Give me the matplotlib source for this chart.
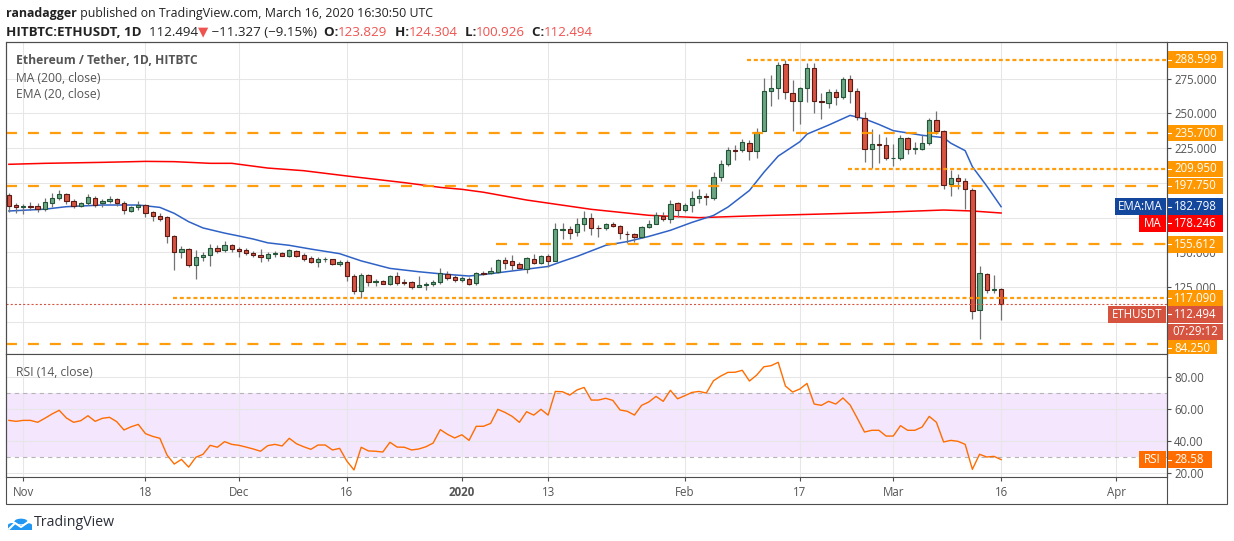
"""
ETH/USDT daily chart (HITBTC) - TradingView style recreation
"""

import matplotlib
matplotlib.use("Agg")
import matplotlib.pyplot as plt
import matplotlib.transforms as mtransforms
from matplotlib.patches import Rectangle, Circle
from matplotlib.lines import Line2D
import numpy as np
import pandas as pd

# ─── DATA ───────────────────────────────────────────────────────────────────
start_date = "2019-10-30"

opens = [191.2, 183.7, 182.3, 182.9, 183.0, 181.4, 185.7, 188.8, 191.9, 186.6,
         183.5, 185.2, 188.8, 185.2, 187.1, 188.1, 185.2, 179.9, 182.3, 183.7,
         178.7, 175.8, 175.1, 161.5, 149.9, 152.1, 140.6, 146.3, 147.8, 152.8,
         151.4, 155.0, 152.1, 151.6, 149.5, 148.0, 146.1, 148.5, 149.5, 147.5,
         150.9, 148.0, 145.6, 143.2, 144.9, 144.9, 141.8, 142.7, 133.2, 122.4,
         133.4, 128.8, 129.3, 127.4, 132.7, 128.8, 128.4, 125.2, 126.2, 126.9,
         128.4, 134.6, 131.9, 129.8, 131.0, 127.6, 134.8, 134.8, 135.6, 144.2,
         143.5, 141.3, 138.2, 144.9, 142.5, 147.1, 143.9, 165.8, 166.5, 164.3,
         170.1, 174.4, 167.4, 167.2, 170.1, 168.6, 162.9, 162.9, 160.7, 167.9,
         170.6, 175.8, 173.7, 185.2, 180.2, 183.8, 188.8, 190.5, 188.8, 203.9,
         213.2, 223.4, 223.3, 228.4, 222.6, 237.0, 265.8, 267.9, 285.2, 264.3,
         258.6, 267.9, 282.3, 258.6, 257.1, 265.0, 261.4, 274.4, 265.8, 246.3,
         224.0, 227.6, 226.9, 217.5, 217.6, 231.9, 224.0, 224.0, 228.4, 244.9,
         237.0, 199.3, 203.2, 201.0, 194.5, 108.2, 134.1, 122.8, 123.829]

highs = [192.4, 185.7, 184.7, 186.2, 185.2, 189.3, 192.9, 194.8, 192.9, 188.3,
         186.4, 191.9, 190.5, 188.6, 190.5, 189.0, 187.1, 183.3, 186.9, 184.7,
         179.7, 178.5, 176.3, 162.7, 154.3, 152.8, 151.6, 150.0, 155.7, 155.0,
         157.9, 155.7, 153.5, 152.8, 150.9, 152.3, 150.4, 150.9, 150.4, 152.6,
         151.6, 149.7, 147.3, 146.3, 146.3, 145.4, 144.4, 144.2, 134.4, 135.1,
         134.4, 131.0, 130.0, 133.4, 136.0, 130.5, 129.1, 132.9, 128.6, 130.0,
         138.4, 136.3, 133.6, 132.9, 132.4, 136.0, 136.8, 139.2, 145.4, 146.3,
         147.8, 143.2, 146.3, 148.5, 147.8, 148.5, 171.3, 170.8, 168.9, 174.6,
         179.7, 178.5, 169.4, 171.1, 171.8, 169.4, 165.0, 163.6, 168.9, 173.0,
         178.7, 178.7, 187.6, 186.2, 185.2, 194.3, 195.3, 192.4, 207.7, 216.1,
         226.0, 227.2, 231.2, 230.8, 239.1, 275.4, 277.5, 287.1, 288.3, 273.9,
         269.1, 285.9, 285.9, 264.3, 267.2, 267.2, 275.8, 277.5, 267.9, 251.1,
         238.4, 234.8, 232.7, 227.9, 234.1, 233.1, 229.1, 234.1, 246.3, 251.6,
         237.9, 209.2, 206.3, 203.2, 196.0, 140.1, 135.1, 133.4, 124.304]

lows = [179.2, 178.0, 177.3, 180.4, 179.2, 179.7, 182.8, 187.6, 184.7, 181.6,
        182.8, 184.0, 182.8, 182.3, 185.7, 183.5, 177.5, 178.9, 180.4, 175.6,
        172.7, 172.7, 156.7, 137.5, 146.1, 139.2, 131.0, 143.5, 140.4, 149.7,
        149.9, 149.9, 146.3, 148.0, 146.3, 143.2, 143.7, 146.3, 147.3, 146.3,
        146.3, 143.7, 142.5, 139.6, 143.2, 141.1, 140.1, 129.6, 120.0, 117.3,
        125.7, 125.7, 126.9, 126.7, 126.7, 126.7, 123.8, 124.8, 122.8, 125.5,
        127.2, 130.0, 128.8, 128.8, 126.4, 126.2, 133.4, 134.1, 135.1, 137.7,
        137.0, 137.7, 135.3, 141.6, 141.6, 139.2, 143.7, 159.3, 159.3, 161.9,
        165.0, 162.2, 161.2, 165.8, 167.9, 159.3, 156.4, 157.6, 160.0, 167.2,
        170.1, 172.7, 171.3, 175.1, 179.0, 179.2, 185.2, 184.0, 187.8, 201.0,
        212.0, 216.4, 222.4, 216.4, 218.0, 237.0, 255.5, 260.5, 260.0, 237.0,
        242.0, 258.3, 250.4, 245.6, 253.5, 255.9, 260.5, 257.1, 245.1, 215.2,
        210.4, 214.0, 216.4, 212.3, 216.1, 220.4, 220.4, 223.6, 226.9, 234.8,
        195.3, 190.5, 195.3, 181.1, 101.7, 87.8, 120.9, 120.9, 100.926]

closes = [183.5, 182.3, 183.0, 182.8, 181.4, 185.9, 188.8, 191.9, 187.1, 183.5,
          185.2, 189.5, 184.2, 187.1, 188.1, 185.2, 180.4, 182.3, 183.7, 178.0,
          176.3, 174.2, 161.5, 149.9, 152.1, 140.6, 146.3, 147.8, 152.8, 150.7,
          155.0, 152.1, 150.7, 149.2, 147.8, 146.3, 148.5, 149.7, 147.5, 151.6,
          147.5, 145.4, 143.2, 145.2, 144.9, 141.8, 143.0, 133.2, 122.4, 133.4,
          128.8, 128.9, 127.4, 132.7, 128.1, 128.1, 125.2, 126.2, 127.2, 128.8,
          134.8, 131.5, 129.8, 131.2, 127.4, 134.8, 134.4, 136.3, 144.2, 142.5,
          141.1, 138.4, 145.6, 142.5, 147.1, 143.9, 166.5, 166.5, 164.1, 170.1,
          174.4, 167.2, 167.2, 170.1, 168.6, 163.6, 162.8, 160.7, 167.9, 170.1,
          176.6, 173.7, 184.5, 180.2, 183.8, 188.8, 190.5, 189.5, 203.9, 213.2,
          223.3, 223.1, 229.1, 222.6, 236.3, 265.8, 267.9, 284.5, 265.0, 258.6,
          267.9, 282.3, 258.6, 257.9, 265.0, 261.4, 274.4, 265.8, 247.1, 224.0,
          227.6, 226.9, 217.6, 217.8, 231.9, 224.0, 224.8, 228.4, 244.9, 237.0,
          198.6, 203.2, 201.0, 195.3, 107.5, 134.8, 122.6, 123.821, 112.494]

# EMA(20) and MA(200) (day number, value)
ema_day = [0, 5, 8, 13, 18, 21, 23, 25, 27, 30, 32, 34, 36, 39, 42, 46, 49, 53, 57, 60,
           64, 67, 71, 75, 77, 79, 83, 86, 89, 92, 95, 98, 100, 103, 105, 107, 110, 111, 114, 117,
           119, 121, 123, 127, 130, 131, 133, 134, 136, 138]
ema_val = [179.7, 181.0, 182.8, 184.0, 184.0, 182.3, 178.0, 172.0, 167.5, 163.8,
           161.7, 159.5, 156.8, 155.0, 152.3, 149.0, 143.8, 138.4, 136.0, 134.5,
           132.9, 134.6, 137.2, 139.8, 143.5, 147.0, 155.0, 157.7, 161.4, 165.8,
           171.5, 176.5, 182.5, 194.5, 207.5, 219.2, 229.5, 235.0, 241.5, 248.5,
           246.0, 242.0, 237.5, 234.2, 232.5, 228.5, 223.1, 211.6, 197.7, 182.798]

ma_day = [0, 5, 13, 19, 23, 28, 31, 36, 41, 47, 55, 60, 63, 66, 72, 81, 89, 96, 104, 113,
          120, 130, 134, 138]
ma_val = [213.3, 214.0, 214.7, 215.4, 215.2, 214.0, 214.0, 210.6, 208.7, 204.9,
          200.1, 196.7, 195.3, 193.2, 187.6, 180.9, 176.6, 174.9, 176.3, 177.5,
          178.5, 180.4, 179.7, 178.246]

rsi = [53.1, 52.5, 53.1, 53.1, 51.9, 54.4, 57.1, 59.4, 54.6, 51.9,
       52.9, 56.0, 52.5, 54.4, 55.0, 52.3, 47.1, 49.1, 50.6, 44.8,
       43.1, 41.9, 31.4, 25.8, 28.7, 23.9, 30.0, 31.9, 37.5, 36.3,
       39.8, 38.1, 37.5, 36.4, 35.2, 33.8, 37.3, 38.1, 37.1, 41.9,
       38.5, 36.6, 35.0, 37.7, 37.7, 34.6, 35.6, 27.7, 22.1, 36.3,
       34.0, 33.8, 33.3, 39.4, 36.4, 36.3, 34.6, 35.2,
       36.6, 38.9, 47.3, 44.4, 42.1,
       44.1, 40.6, 49.4, 49.4, 51.2, 60.0, 58.1, 55.6, 51.9, 58.5,
       56.4, 60.0, 56.4, 71.2, 71.0, 68.9, 72.1, 73.7, 65.8, 65.8,
       66.9, 65.6, 59.6, 58.8, 56.4, 62.5, 64.6, 68.1, 65.0, 71.9, 66.6,
       68.5, 70.6, 71.2, 70.2, 77.9, 80.8, 83.1, 83.2, 84.4, 77.7,
       81.4, 86.6, 87.3, 89.4, 74.6, 70.8, 72.7, 76.2, 63.3, 62.5, 65.0, 63.3,
       67.1, 62.7, 54.4, 45.8, 46.9, 46.9, 43.3,
       43.3, 49.8, 46.9, 46.9, 48.9, 55.6, 51.9, 39.6, 40.6, 40.0,
       38.1, 22.5, 31.9, 30.2, 30.6, 28.58]

# horizontal support / resistance levels (value, first day drawn, style)
level_vals = [288.599, 235.700, 209.950, 197.750, 155.612, 117.090, 84.250]
level_from = [102.7, None, 116.7, None, 67.8, 22.8, None]
level_style = ["dot", "dash", "dot", "dash", "dash", "dot", "dash"]

tick_dates = ["2019-11-01", "2019-11-18", "2019-12-01", "2019-12-16", "2020-01-01",
              "2020-01-13", "2020-02-01", "2020-02-17", "2020-03-01", "2020-03-16",
              "2020-04-01"]
tick_labels = ["Nov", "18", "Dec", "16", "2020", "13", "Feb", "17", "Mar", "16", "Apr"]

# price-scale labels that stay visible (others are hidden behind tags)
price_ticks = [125, 150, 225, 250, 275]
price_grid = [100, 125, 150, 175, 200, 225, 250, 275]

countdown = "07:29:12"

# ─── STYLE ──────────────────────────────────────────────────────────────────
plt.rcParams['font.family'] = ['Open Sans', 'DejaVu Sans']
plt.rcParams['lines.scale_dashes'] = False

FRAME = '#4d4d4d'
GRID = '#e6e6e6'
TXT = '#555555'
DARK = '#222222'
ORANGE = '#ff9800'
UP_FILL, UP_EDGE = '#6ba583', '#225437'
DN_FILL, DN_EDGE = '#d75442', '#5b1a13'
WICK = '#737375'
EMA_LINE, EMA_BOX = '#2f62c6', '#13479e'
MA_C = '#ff0000'
PRICE_C = '#d65340'
RSI_C = '#ff6d00'
RSI_BAND = '#f3e6fd'
HDR_RED = '#ef5350'

W, H, DPI = 1234, 541, 100
def fx(x): return x / W
def fy(y): return 1 - y / H

# pane geometry in pixels
LEFT, RIGHT, EDGE = 6, 1167, 1227
P_TOP, P_BOT, R_BOT, T_BOT = 42, 354, 477, 504

opens, highs, lows, closes = map(np.array, (opens, highs, lows, closes))
day = np.arange(len(closes))
start = pd.Timestamp(start_date)
tick_pos = [(pd.Timestamp(d) - start).days for d in tick_dates]

XLIM = (-0.4, 161.07)
PLIM = (76.8, 301.3)
RLIM = (17.7, 94.6)

fig = plt.figure(figsize=(W / DPI, H / DPI), dpi=DPI)
fig.patch.set_facecolor('white')

ax_p = fig.add_axes([fx(LEFT), fy(P_BOT), (RIGHT - LEFT) / W, (P_BOT - P_TOP) / H])
ax_r = fig.add_axes([fx(LEFT), fy(R_BOT), (RIGHT - LEFT) / W, (R_BOT - P_BOT) / H])

for ax in (ax_p, ax_r):
    ax.set_xlim(*XLIM)
    ax.set_xticks(tick_pos)
    ax.grid(True, axis='x', color=GRID, lw=0.75, zorder=0)
    ax.set_axisbelow(True)
    for s in ax.spines.values():
        s.set_color(FRAME)
        s.set_linewidth(0.8)
    ax.yaxis.tick_right()
    ax.tick_params(axis='y', length=2.9, color=FRAME, labelsize=8.3,
                   labelcolor=TXT, pad=2.2, width=0.8)

ax_p.set_ylim(*PLIM)
ax_r.set_ylim(*RLIM)
ax_p.tick_params(axis='x', length=0, labelbottom=False)
ax_r.set_xticklabels(tick_labels)
ax_r.tick_params(axis='x', length=2.9, color=FRAME, labelsize=8.3,
                 labelcolor=TXT, pad=3.5, width=0.8)
ax_r.get_xticklabels()[tick_labels.index("2020")].set_fontweight('bold')

ax_p.set_yticks(price_ticks)
ax_p.set_yticklabels([f"{v:.3f}" for v in price_ticks])
for g in price_grid:
    ax_p.axhline(g, color=GRID, lw=0.75, zorder=0.1)
ax_r.set_yticks([20, 40, 60, 80])
ax_r.set_yticklabels([f"{v:.2f}" for v in [20, 40, 60, 80]])
ax_r.grid(True, axis='y', color=GRID, lw=0.75, zorder=0)

# ─── PRICE PANE ─────────────────────────────────────────────────────────────
ax_p.plot(ma_day, ma_val, color=MA_C, lw=1.1, zorder=2)
ax_p.plot(ema_day, ema_val, color=EMA_LINE, lw=1.1, zorder=2)

up = closes >= opens
body_lo = np.minimum(opens, closes)
body_h = np.maximum(np.abs(closes - opens), 0.45)
ax_p.vlines(day, lows, highs, color=WICK, lw=0.9, zorder=3)
ax_p.bar(day[up], body_h[up], bottom=body_lo[up], width=0.6,
         color=UP_FILL, edgecolor=UP_EDGE, linewidth=0.8, zorder=4)
ax_p.bar(day[~up], body_h[~up], bottom=body_lo[~up], width=0.6,
         color=DN_FILL, edgecolor=DN_EDGE, linewidth=0.8, zorder=4)

for v, x0, st in zip(level_vals, level_from, level_style):
    x0 = XLIM[0] if x0 is None else x0
    dashes = (2.9, 2.0) if st == "dot" else (7.9, 7.9)
    ax_p.plot([x0, XLIM[1]], [v, v], color=ORANGE, lw=1.6, dashes=dashes,
              alpha=0.95, zorder=5, solid_capstyle='butt')

last = closes[-1]
ax_p.plot(XLIM, [last, last], color=PRICE_C, lw=0.8, dashes=(1.5, 1.5), zorder=5)

# legend texts
ax_p.text(10 / (RIGHT - LEFT), 1 - 19 / (P_BOT - P_TOP), "Ethereum / Tether, 1D, HITBTC",
          transform=ax_p.transAxes, fontsize=8.7, color=TXT, fontweight='bold', va='center')
ax_p.text(10 / (RIGHT - LEFT), 1 - 36 / (P_BOT - P_TOP), "MA (200, close)",
          transform=ax_p.transAxes, fontsize=8.7, color=TXT, va='center')
ax_p.text(10 / (RIGHT - LEFT), 1 - 53 / (P_BOT - P_TOP), "EMA (20, close)",
          transform=ax_p.transAxes, fontsize=8.7, color=TXT, va='center')

# ─── PRICE SCALE TAGS ───────────────────────────────────────────────────────
pane_w = RIGHT - LEFT
def afx(px): return (px - LEFT) / pane_w


def tags(ax, lim, pane_h_px, items):
    ppu = pane_h_px / (lim[1] - lim[0])       # pixels per data unit
    tr = mtransforms.blended_transform_factory(ax.transAxes, ax.transData)
    clip = mtransforms.TransformedBbox(
        mtransforms.Bbox([[0, 0], [1.06, 1]]), ax.transAxes)
    for val, text, color, x0, x1, dy, tick in items:
        yc = val - dy / ppu
        hh = 16.6 / ppu
        r = Rectangle((afx(x0), yc - hh / 2), afx(x1) - afx(x0), hh,
                      transform=tr, facecolor=color, edgecolor='none', zorder=20)
        ax.add_patch(r)
        r.set_clip_path(None)
        r.set_clip_box(clip)
        r.set_clip_on(True)
        if tick:
            ax.add_line(Line2D([afx(RIGHT), afx(RIGHT + 4)], [yc, yc], transform=tr,
                               color='white', lw=0.8, zorder=21, clip_on=False))
            ax.text(afx(RIGHT + 7), yc, text, transform=tr, color='white',
                    fontsize=8.3, va='center', ha='left', zorder=22, clip_on=False)
        else:
            ax.text((afx(x0) + afx(x1)) / 2, yc, text, transform=tr, color='white',
                    fontsize=8.3, va='center', ha='center', zorder=22, clip_on=False)


ema_last, ma_last = ema_val[-1], ma_val[-1]
price_items = []
for v in level_vals:
    dy = 4.6 if v == level_vals[-1] else 0
    x1 = 1217 if v == level_vals[-1] else 1223
    price_items.append((v, f"{v:.3f}", ORANGE, RIGHT, x1, dy, True))
price_items += [
    (ema_last, f"{ema_last:.3f}", EMA_BOX, RIGHT, 1223, 0, True),
    (ema_last, "EMA:MA", EMA_BOX, 1115, 1166, 0, False),
    (ma_last, f"{ma_last:.3f}", MA_C, RIGHT, 1223, 10.3, True),
    (ma_last, "MA", MA_C, 1139, 1166, 10.3, False),
    (last, f"{last:.3f}", PRICE_C, RIGHT, 1223, 9.9, True),
    (last, "ETHUSDT", PRICE_C, 1108, 1166, 9.9, False),
    (last, countdown, PRICE_C, RIGHT, 1223, 27.6, False),
]
tags(ax_p, PLIM, P_BOT - P_TOP, price_items)

# ─── RSI PANE ───────────────────────────────────────────────────────────────
ax_r.axhspan(30, 70, color=RSI_BAND, zorder=0.5, lw=0)
for lvl in (70, 30):
    ax_r.axhline(lvl, color='#b4b4b4', lw=0.8, dashes=(3, 3), zorder=1)
ax_r.plot(day, rsi, color=RSI_C, lw=1.0, zorder=3)
ax_r.text(10 / pane_w, 1 - 18 / (R_BOT - P_BOT), "RSI (14, close)", transform=ax_r.transAxes,
          fontsize=8.7, color=TXT, va='center')
rsi_last = rsi[-1]
tags(ax_r, RLIM, R_BOT - P_BOT, [
    (rsi_last, f"{rsi_last:.2f}", RSI_C, RIGHT, 1212, 0, True),
    (rsi_last, "RSI", RSI_C, 1139, 1166, 0, False),
])

# ─── FRAME ──────────────────────────────────────────────────────────────────
fig.add_artist(Rectangle((fx(LEFT), fy(T_BOT)), (EDGE - LEFT) / W, (T_BOT - P_TOP) / H,
                         transform=fig.transFigure, fill=False, edgecolor=FRAME, lw=0.8))
fig.add_artist(Line2D([fx(RIGHT), fx(RIGHT)], [fy(T_BOT), fy(P_TOP)],
                      transform=fig.transFigure, color=FRAME, lw=0.8))

# ─── HEADER ─────────────────────────────────────────────────────────────────
renderer = fig.canvas.get_renderer()


def text_runs(x_px, y_px, parts, size):
    x = x_px
    for txt, color, weight in parts:
        t = fig.text(fx(x), fy(y_px), txt, color=color, fontweight=weight,
                     fontsize=size, va='center', ha='left')
        x += t.get_window_extent(renderer).width


chg = closes[-1] - closes[-2]
pct = chg / closes[-2] * 100
text_runs(LEFT, 13, [
    ("ranadagger", DARK, 'bold'),
    (" published on TradingView.com, March 16, 2020 16:30:50 UTC", DARK, 'normal'),
], 8.9)
text_runs(LEFT, 32, [
    ("HITBTC:ETHUSDT, 1D", DARK, 'bold'),
    (f"  {closes[-1]:.3f}", DARK, 'normal'),
    ("\u25bc", HDR_RED, 'normal'),
    (f" \u2212{abs(chg):.3f} (\u2212{abs(pct):.2f}%)", DARK, 'normal'),
    ("  O:", DARK, 'bold'), (f"{opens[-1]:.3f}", HDR_RED, 'normal'),
    ("  H:", DARK, 'bold'), (f"{highs[-1]:.3f}", HDR_RED, 'normal'),
    ("  L:", DARK, 'bold'), (f"{lows[-1]:.3f}", HDR_RED, 'normal'),
    ("  C:", DARK, 'bold'), (f"{closes[-1]:.3f}", HDR_RED, 'normal'),
], 9.6)

# ─── LOGO ───────────────────────────────────────────────────────────────────
LOGO = '#2196f3'
for cx, cy, r in [(12.5, 525, 4.5), (21, 521.5, 6.5), (28, 525, 4)]:
    fig.add_artist(Circle((fx(cx), fy(cy)), r / W, transform=fig.transFigure,
                          facecolor=LOGO, edgecolor='none'))
fig.add_artist(Rectangle((fx(8), fy(529.5)), 24 / W, 5 / H, transform=fig.transFigure,
                         facecolor=LOGO, edgecolor='none'))
fig.add_artist(Line2D([fx(9), fx(15), fx(21), fx(31)], [fy(529), fy(523), fy(527), fy(520)],
                      transform=fig.transFigure, color='white', lw=1.5))
fig.text(fx(34), fy(522), "TradingView", fontsize=10.2, color='#2a2e39', va='center')

fig.savefig("out.png", dpi=DPI, facecolor='white')
